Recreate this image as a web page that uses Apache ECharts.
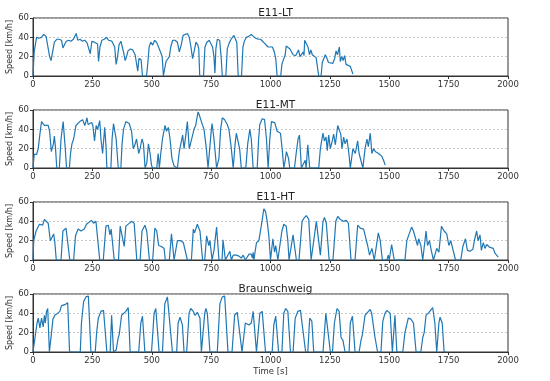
<!DOCTYPE html>
<html>
<head>
<meta charset="utf-8">
<script src="https://cdn.jsdelivr.net/npm/echarts@6/dist/echarts.min.js"></script>
<style>html,body{margin:0;padding:0;background:#fff}#c{width:550px;height:381px}</style>
</head>
<body>
<div id="c"></div>
<script>
var titles = ['E11-LT', 'E11-MT', 'E11-HT', 'Braunschweig'];
var xTicks = [0, 250, 500, 750, 1000, 1250, 1500, 1750, 2000];
var yTicks = [0, 20, 40, 60];

var ltData = [[0,0],[5,25],[15,40],[25,39],[35,40],[45,43],[55,41],[62,39],[70,20],[76,16],[82,18],[90,35],[100,38],[110,38],[120,37],[126,29],[132,32],[140,36],[150,37],[160,36],[170,38],[178,39],[182,44],[188,37],[198,38],[208,36],[218,37],[228,34],[236,36],[241,23],[248,36],[258,35],[266,36],[272,33],[276,15],[282,30],[290,37],[300,38],[310,40],[318,37],[326,38],[332,36],[339,38],[344,30],[350,12],[356,20],[362,32],[370,36],[376,30],[382,24],[388,16],[394,20],[400,26],[410,28],[420,27],[430,22],[436,20],[441,5],[446,18],[455,17],[461,0],[478,0],[484,15],[489,30],[496,35],[504,32],[512,37],[522,34],[530,36],[538,24],[544,20],[549,0],[556,0],[560,15],[568,14],[574,20],[580,30],[588,37],[598,37],[608,35],[616,25],[624,32],[632,42],[640,44],[650,44],[658,40],[665,30],[672,18],[678,25],[686,35],[694,32],[698,28],[702,0],[718,0],[724,30],[732,35],[742,37],[750,38],[756,30],[762,20],[766,3],[770,28],[776,38],[780,40],[786,37],[792,20],[797,0],[812,0],[818,28],[826,34],[834,38],[840,40],[846,42],[852,40],[858,35],[864,0],[878,0],[884,30],[890,36],[898,40],[908,41],[919,43],[928,41],[938,39],[948,38],[958,38],[966,36],[974,34],[982,32],[990,30],[998,32],[1008,30],[1016,25],[1022,18],[1028,0],[1043,0],[1048,12],[1056,18],[1062,22],[1066,31],[1074,29],[1082,28],[1090,30],[1095,22],[1100,24],[1106,21],[1112,22],[1118,27],[1124,20],[1132,19],[1138,25],[1141,21],[1144,37],[1152,36],[1158,30],[1164,22],[1170,27],[1176,22],[1184,20],[1192,19],[1198,20],[1203,0],[1213,0],[1218,14],[1225,15],[1231,22],[1238,18],[1244,14],[1252,12],[1262,13],[1270,18],[1276,26],[1282,22],[1290,30],[1294,15],[1300,20],[1306,16],[1312,21],[1318,12],[1326,11],[1336,10],[1343,9],[1347,2]];

var mtData = [[0,0],[5,14],[15,14],[22,20],[29,35],[36,48],[42,46],[48,44],[55,45],[64,44],[70,38],[77,17],[81,15],[86,25],[90,33],[95,20],[100,0],[111,0],[118,30],[127,48],[131,47],[136,20],[141,0],[153,0],[158,15],[164,25],[171,30],[181,44],[188,46],[197,48],[209,50],[216,50],[218,44],[223,48],[227,52],[232,45],[240,47],[247,47],[252,44],[259,28],[266,44],[272,40],[281,49],[286,30],[293,15],[302,42],[308,20],[311,0],[328,0],[333,30],[339,46],[345,47],[350,30],[359,0],[370,0],[375,25],[381,40],[391,48],[405,46],[415,38],[422,20],[429,24],[436,30],[445,15],[451,20],[459,30],[465,25],[472,0],[479,5],[486,25],[493,15],[499,3],[503,0],[521,0],[527,15],[532,0],[538,15],[545,30],[549,35],[556,44],[562,38],[570,42],[577,30],[585,10],[594,2],[601,0],[608,0],[616,17],[622,15],[630,34],[636,20],[644,35],[650,48],[658,20],[664,26],[671,28],[678,40],[685,44],[695,58],[700,55],[706,53],[713,45],[720,40],[730,20],[737,0],[742,0],[751,40],[754,46],[762,30],[773,0],[783,10],[790,40],[797,52],[807,50],[818,45],[825,40],[835,20],[843,0],[846,0],[851,25],[856,36],[863,35],[870,20],[877,0],[896,0],[904,25],[913,40],[919,30],[927,0],[944,0],[950,30],[955,45],[965,51],[975,50],[983,30],[990,0],[997,30],[1004,48],[1011,46],[1018,47],[1028,38],[1042,36],[1049,20],[1056,0],[1062,8],[1067,17],[1076,10],[1081,0],[1101,0],[1108,15],[1116,30],[1122,34],[1130,0],[1137,0],[1146,8],[1150,0],[1157,24],[1165,0],[1203,0],[1210,20],[1215,20],[1221,36],[1227,28],[1234,32],[1239,18],[1245,34],[1252,20],[1259,27],[1266,35],[1273,24],[1283,44],[1291,46],[1296,35],[1301,20],[1308,32],[1314,25],[1322,30],[1330,15],[1336,0],[1340,0],[1347,20],[1357,15],[1367,28],[1373,15],[1381,13],[1389,0],[1398,20],[1406,30],[1412,22],[1420,36],[1427,15],[1434,20],[1441,17],[1448,16],[1455,15],[1462,14],[1469,12],[1476,8],[1483,3]];

var htData = [[0,0],[3,20],[13,30],[27,37],[34,38],[41,36],[48,42],[55,40],[64,38],[73,20],[78,18],[87,27],[92,18],[98,0],[118,0],[126,30],[139,33],[146,33],[155,0],[171,0],[179,25],[190,32],[202,30],[216,32],[225,37],[232,36],[246,41],[255,38],[265,40],[272,38],[281,0],[296,0],[307,35],[317,36],[324,26],[329,32],[336,15],[342,0],[360,0],[367,35],[374,35],[384,14],[391,35],[398,33],[415,40],[426,38],[437,0],[451,0],[459,30],[471,36],[479,30],[490,0],[504,0],[513,33],[521,30],[529,15],[541,14],[552,12],[557,0],[574,0],[583,27],[594,0],[602,0],[608,20],[622,20],[633,18],[640,18],[650,0],[667,0],[675,32],[680,28],[692,37],[703,30],[714,0],[723,0],[731,25],[740,15],[745,20],[754,0],[762,10],[773,34],[783,0],[796,0],[800,21],[810,0],[818,0],[829,9],[835,0],[843,5],[849,3],[857,5],[867,4],[877,2],[885,5],[894,0],[902,0],[910,6],[919,6],[924,2],[927,8],[930,0],[933,0],[941,18],[951,20],[961,35],[972,53],[979,50],[986,40],[993,25],[1000,0],[1010,22],[1017,8],[1022,15],[1031,0],[1039,0],[1048,30],[1056,37],[1066,35],[1073,20],[1078,0],[1084,0],[1095,26],[1102,25],[1109,0],[1120,0],[1133,40],[1140,43],[1151,46],[1161,42],[1171,0],[1179,0],[1193,40],[1199,40],[1210,5],[1221,40],[1227,44],[1235,38],[1247,0],[1263,0],[1275,40],[1283,45],[1294,42],[1308,40],[1319,41],[1328,38],[1339,0],[1356,0],[1367,36],[1378,33],[1392,32],[1399,25],[1409,15],[1417,5],[1427,12],[1437,0],[1443,0],[1454,28],[1462,20],[1471,0],[1490,0],[1496,5],[1500,0],[1510,16],[1521,0],[1566,0],[1574,20],[1580,18],[1594,34],[1602,30],[1609,28],[1619,15],[1624,22],[1633,15],[1641,0],[1647,0],[1655,30],[1661,15],[1669,20],[1677,10],[1686,0],[1692,0],[1700,12],[1709,8],[1720,35],[1731,30],[1742,27],[1751,15],[1759,20],[1767,12],[1779,0],[1801,0],[1810,14],[1815,15],[1821,22],[1829,10],[1840,9],[1852,11],[1860,22],[1868,30],[1874,20],[1882,26],[1888,10],[1896,18],[1903,12],[1910,16],[1924,13],[1938,12],[1945,7],[1952,8],[1959,3]];

var bsData = [[0,0],[7,0],[17,30],[22,35],[29,25],[36,35],[43,26],[48,38],[52,30],[57,42],[62,45],[69,0],[76,0],[78,20],[84,34],[92,38],[104,40],[113,42],[120,48],[134,49],[146,51],[154,0],[199,0],[204,30],[213,52],[223,57],[233,58],[244,0],[262,0],[268,20],[275,35],[286,42],[297,43],[311,0],[325,0],[331,38],[339,0],[350,2],[359,15],[363,18],[373,38],[381,38],[391,42],[401,46],[409,0],[445,0],[454,30],[461,37],[471,0],[499,0],[510,40],[517,45],[531,0],[545,0],[555,50],[566,57],[573,58],[587,0],[605,0],[611,30],[619,36],[629,28],[636,0],[647,0],[657,40],[664,45],[675,42],[682,38],[692,41],[703,35],[709,0],[714,0],[723,40],[728,45],[734,40],[745,0],[776,0],[787,50],[797,57],[807,58],[821,0],[838,0],[849,38],[860,41],[868,40],[880,0],[885,0],[894,30],[902,28],[909,28],[919,30],[927,42],[933,44],[941,0],[947,0],[955,40],[965,42],[979,0],[1007,0],[1014,28],[1022,37],[1034,0],[1048,0],[1056,40],[1064,45],[1073,42],[1084,0],[1095,0],[1104,35],[1115,42],[1126,43],[1133,42],[1148,0],[1157,0],[1165,35],[1174,32],[1182,0],[1221,0],[1233,40],[1241,42],[1252,0],[1261,0],[1269,30],[1280,45],[1289,42],[1297,15],[1305,12],[1314,0],[1331,0],[1336,30],[1345,37],[1356,0],[1373,0],[1381,12],[1387,18],[1398,38],[1406,40],[1420,44],[1426,40],[1440,15],[1451,0],[1465,0],[1473,32],[1482,40],[1490,43],[1504,40],[1513,0],[1518,0],[1524,38],[1532,0],[1557,0],[1566,20],[1572,22],[1580,35],[1591,34],[1602,30],[1613,0],[1633,0],[1641,15],[1647,20],[1655,38],[1664,40],[1672,40],[1683,46],[1692,30],[1700,0],[1703,0],[1709,30],[1714,36],[1723,30],[1731,0],[1740,0]];

var seriesData = [ltData, mtData, htData, bsData];
var tops = [18, 110, 202, 294];
var plotH = 58;
var axisColor = '#333';
var labelColor = '#333';
var fontFam = 'DejaVu Sans';

var grids = [], xAxes = [], yAxes = [], series = [], titleArr = [];
for (var i = 0; i < 4; i++) {
  grids.push({left: 33, right: 42, top: tops[i], height: plotH, show: true, borderColor: axisColor, borderWidth: 1,
    containLabel: false, outerBoundsMode: 'none'});
  titleArr.push({text: titles[i], left: 270.5, top: tops[i] - 15, textAlign: 'center',
    textStyle: {fontSize: 10.5, fontWeight: 'normal', color: '#222', fontFamily: fontFam}});
  xAxes.push({type: 'value', gridIndex: i, min: xTicks[0], max: xTicks[xTicks.length - 1], interval: 250,
    axisLine: {show: true, onZero: false, lineStyle: {color: axisColor, width: 1}},
    axisTick: {show: true, length: 3, inside: false, lineStyle: {color: axisColor}},
    axisLabel: {fontSize: 8.5, color: labelColor, margin: 4, fontFamily: fontFam, formatter: function (v) { return String(v); }},
    splitLine: {show: false},
    name: i === 3 ? 'Time [s]' : '', nameLocation: 'middle', nameGap: 15, nameMoveOverlap: false,
    nameTextStyle: {fontSize: 8.5, color: labelColor, fontFamily: fontFam}});
  yAxes.push({type: 'value', gridIndex: i, min: yTicks[0], max: yTicks[yTicks.length - 1], interval: 20,
    axisLine: {show: true, lineStyle: {color: axisColor, width: 1}},
    axisTick: {show: true, length: 3, inside: false, lineStyle: {color: axisColor}},
    axisLabel: {fontSize: 8.5, color: labelColor, margin: 4, fontFamily: fontFam},
    splitLine: {show: true, lineStyle: {color: '#bbb', type: [2, 2], width: 0.8}},
    name: 'Speed [km/h]', nameLocation: 'middle', nameGap: 19, nameRotate: 90, nameMoveOverlap: false,
    nameTextStyle: {fontSize: 8, color: labelColor, fontFamily: fontFam}});
  series.push({type: 'line', xAxisIndex: i, yAxisIndex: i, data: seriesData[i], showSymbol: false,
    symbol: 'none', smooth: false, lineStyle: {color: '#1f77b4', width: 1.2}, animation: false, silent: true});
}

var chart = echarts.init(document.getElementById('c'), null, {renderer: 'canvas'});
chart.setOption({
  backgroundColor: '#fff',
  animation: false,
  title: titleArr,
  grid: grids,
  xAxis: xAxes,
  yAxis: yAxes,
  series: series
});
</script>
</body>
</html>
